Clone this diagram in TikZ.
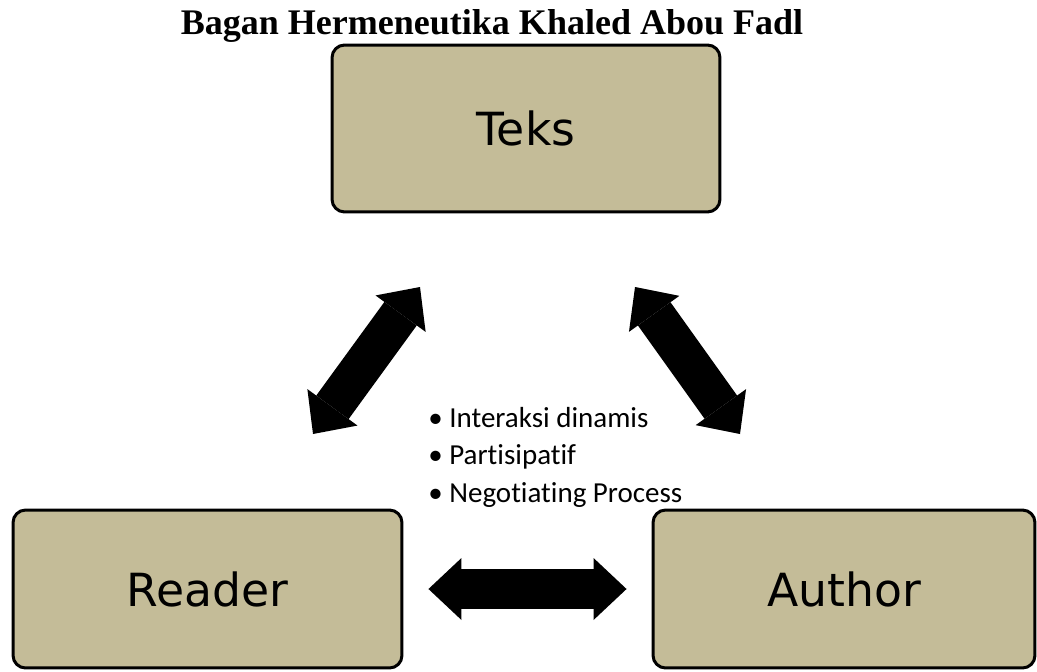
\documentclass[tikz,border=0pt]{standalone}
\usepackage{fontspec}
\newfontfamily\boxfont{DejaVu Sans}
\newfontfamily\listfont{Carlito}[Ligatures=NoCommon]
\newfontfamily\titlefont{Liberation Serif}
\usetikzlibrary{arrows.meta}
\definecolor{khaki}{RGB}{196,188,152}
\tikzset{
	box/.style={rectangle, rounded corners=0.25cm, draw=black, line width=0.06cm, fill=khaki, inner sep=0pt, font=\boxfont\fontsize{26}{30}\selectfont},
	dbl/.style={line width=0.8cm, {Triangle[width=1.24cm, length=0.66cm, line width=0pt]}-{Triangle[width=1.24cm, length=0.66cm, line width=0pt]}}
}

\begin{document}
\begin{tikzpicture}[x=0.02cm, y=-0.02cm]
	\useasboundingbox (0,0) rectangle (1037,672);

	\node[font=\titlefont\bfseries\fontsize{20.5}{24}\selectfont, anchor=base] (title) at (492,35) {Bagan Hermeneutika Khaled Abou Fadl};

	\node[box, minimum width=7.76cm, minimum height=3.34cm] (teks)   at (526,128.5) {Teks};
	\node[box, minimum width=7.78cm, minimum height=3.16cm] (reader) at (207.5,589) {Reader};
	\node[box, minimum width=7.64cm, minimum height=3.16cm] (author) at (844,589)   {Author};

	\node[font=\listfont\fontsize{16.5}{21.3}\selectfont, align=left, anchor=west, inner sep=0pt] (points) at (428,457) {•~Interaksi dinamis\\•~Partisipatif\\•~Negotiating Process};

	\coordinate (t1) at (420,287);
	\coordinate (r1) at (313,434);
	\coordinate (t2) at (635,287);
	\coordinate (a2) at (740,434);

	\path [dbl]                                 (t1)     edge (r1);
	\path [dbl]                                 (t2)     edge (a2);
	\path [dbl, shorten <=0.5cm, shorten >=0.5cm] (reader) edge (author);
\end{tikzpicture}
\end{document}
